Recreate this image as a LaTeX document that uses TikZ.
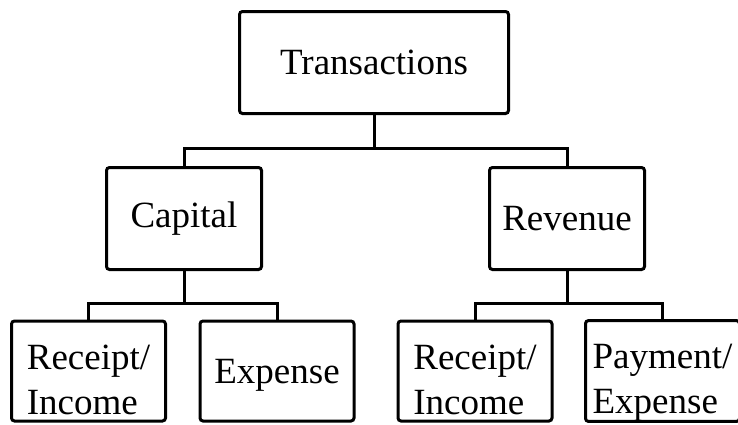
\documentclass[tikz,border=0pt]{standalone}
\usepackage{fontspec}
\setmainfont{Liberation Serif}
% struts for the two-line leaf boxes
\newcommand{\hi}{\rule{0pt}{48pt}}
\newcommand{\lo}{\rule[-7pt]{0pt}{7pt}}

\begin{document}
\begin{tikzpicture}[x=1pt,y=-1pt,line width=3pt,
  every node/.style={font=\fontsize{37}{45}\selectfont},
  box/.style={draw,rounded corners=3pt,inner sep=0pt},
  topbox/.style={box,minimum width=269pt,minimum height=102pt},
  midbox/.style={box,minimum width=155pt,minimum height=102pt},
  leafbox/.style={box,align=left,minimum width=154pt,minimum height=100pt}]
  \useasboundingbox (0,0) rectangle (738,424);
  \clip (0,0) rectangle (738,424);
  \node[topbox] (trans) at (374,62.5) {Transactions};
  \node[midbox] (cap) at (184,218.5) {Capital};
  \node[midbox] (rev) at (567,218.5) {Revenue};
  \node[leafbox] (capin) at (88.5,371) {\hi Receipt/\\Income\lo};
  \node[leafbox,text depth=0pt] (capex) at (277,371) {Expense};
  \node[leafbox] (revin) at (475,371) {\hi Receipt/\\Income\lo};
  \node[leafbox] (revex) at (662.5,371) {\hi Payment/\\Expense\lo};
  \draw (trans.south) -- ++(0,33) -| (cap.north);
  \draw (trans.south) -- ++(0,33) -| (rev.north);
  \draw (cap.south) -- ++(0,32) -| (capin.north);
  \draw (cap.south) -- ++(0,32) -| (capex.north);
  \draw (rev.south) -- ++(0,32) -| (revin.north);
  \draw (rev.south) -- ++(0,32) -| (revex.north);
\end{tikzpicture}
\end{document}
